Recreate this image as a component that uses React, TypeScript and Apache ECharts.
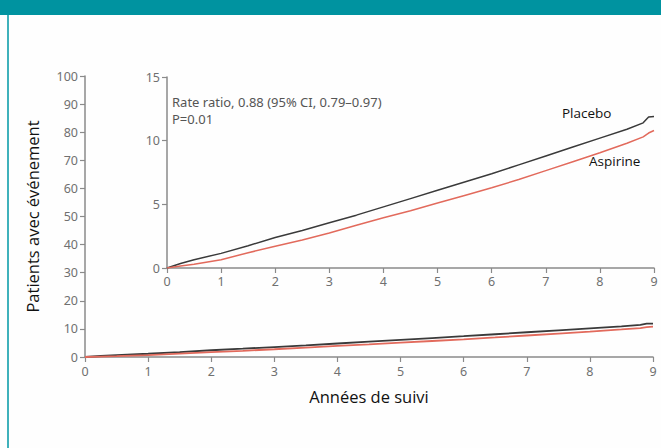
import React, { useEffect, useRef } from "react";
import * as echarts from "echarts";

const years: number[] = [0, 0.25, 0.5, 1, 1.5, 2, 2.5, 3, 3.5, 4, 4.5, 5, 5.5, 6, 6.5, 7, 7.5, 8, 8.5, 8.8, 8.9, 9];
const placebo: number[] = [0, 0.35, 0.65, 1.15, 1.75, 2.4, 2.95, 3.55, 4.15, 4.8, 5.45, 6.1, 6.75, 7.4, 8.1, 8.8, 9.5, 10.2, 10.9, 11.4, 11.85, 11.9];
const aspirine: number[] = [0, 0.15, 0.3, 0.65, 1.2, 1.7, 2.2, 2.75, 3.35, 3.95, 4.5, 5.1, 5.7, 6.3, 6.95, 7.65, 8.35, 9.05, 9.8, 10.3, 10.6, 10.8];

const mainYTicks = { min: 0, max: 100, interval: 10 };
const insetYTicks = { min: 0, max: 15, interval: 5 };
const xTicks = { min: 0, max: 9, interval: 1 };

const seriesNames = ["Placebo", "Aspirine"];
const xTitle = "Années de suivi";
const yTitle = "Patients avec événement";
const annotation1 = "Rate ratio, 0.88 (95% CI, 0.79–0.97)";
const annotation2 = "P=0.01";

const PLACEBO_COLOR = "#3a3a3a";
const ASPIRINE_COLOR = "#e26a5c";
const AXIS_COLOR = "#8a8a8a";
const LABEL_COLOR = "#707070";
const TICK_FONT = "Noto Sans";

export default function App() {
  const ref = useRef<HTMLDivElement>(null);

  useEffect(() => {
    if (!ref.current) return;
    const chart = echarts.init(ref.current, undefined, { renderer: "svg" });
    const pair = (ys: number[]) => years.map((x, i) => [x, ys[i]]);

    const axisCommon = {
      axisLine: { show: true, lineStyle: { color: AXIS_COLOR, width: 1.5 } },
      axisTick: { show: true, length: 5, lineStyle: { color: AXIS_COLOR, width: 1.2 } },
      axisLabel: { color: LABEL_COLOR, fontSize: 12.5, fontFamily: TICK_FONT, margin: 7 },
      splitLine: { show: false },
    };

    chart.setOption({
      animation: false,
      backgroundColor: "#fefefe",
      grid: [
        { left: 85, right: 8, top: 76, bottom: 91 },
        { left: 167, right: 7, top: 77, bottom: 180 },
      ],
      xAxis: [
        {
          type: "value",
          gridIndex: 0,
          ...xTicks,
          ...axisCommon,
          axisLabel: { ...axisCommon.axisLabel, margin: 8 },
          name: xTitle,
          nameLocation: "middle",
          nameGap: 31,
          nameTextStyle: { color: "#111", fontSize: 16.5, fontFamily: "Open Sans" },
        },
        {
          type: "value",
          gridIndex: 1,
          ...xTicks,
          ...axisCommon,
          axisLabel: { ...axisCommon.axisLabel, margin: 7 },
        },
      ],
      yAxis: [
        {
          type: "value",
          gridIndex: 0,
          ...mainYTicks,
          ...axisCommon,
          name: yTitle,
          nameLocation: "middle",
          nameGap: 44,
          nameTextStyle: { color: "#111", fontSize: 16.5, fontFamily: "Open Sans" },
        },
        {
          type: "value",
          gridIndex: 1,
          ...insetYTicks,
          ...axisCommon,
        },
      ],
      series: [
        {
          name: seriesNames[1] + "-main",
          type: "line",
          xAxisIndex: 0,
          yAxisIndex: 0,
          data: pair(aspirine),
          showSymbol: false,
          lineStyle: { color: ASPIRINE_COLOR, width: 1.8 },
          z: 3,
        },
        {
          name: seriesNames[0] + "-main",
          type: "line",
          xAxisIndex: 0,
          yAxisIndex: 0,
          data: pair(placebo),
          showSymbol: false,
          lineStyle: { color: PLACEBO_COLOR, width: 1.8 },
          z: 2,
        },
        {
          name: seriesNames[0],
          type: "line",
          xAxisIndex: 1,
          yAxisIndex: 1,
          data: pair(placebo),
          showSymbol: false,
          lineStyle: { color: PLACEBO_COLOR, width: 1.5 },
        },
        {
          name: seriesNames[1],
          type: "line",
          xAxisIndex: 1,
          yAxisIndex: 1,
          data: pair(aspirine),
          showSymbol: false,
          lineStyle: { color: ASPIRINE_COLOR, width: 1.5 },
        },
      ],
      graphic: [
        { type: "rect", left: 0, top: 0, shape: { width: 661, height: 15 }, style: { fill: "#0093a0" } },
        { type: "rect", left: 7, top: 15, shape: { width: 2, height: 433 }, style: { fill: "#3fb1bb" } },
        {
          type: "text",
          left: 172,
          top: 95,
          style: { text: annotation1, fill: "#555", fontSize: 13, fontFamily: TICK_FONT },
        },
        {
          type: "text",
          left: 172,
          top: 112,
          style: { text: annotation2, fill: "#555", fontSize: 13, fontFamily: TICK_FONT },
        },
        {
          type: "text",
          left: 562,
          top: 106,
          style: { text: seriesNames[0], fill: "#111", fontSize: 13.5, fontFamily: "Open Sans" },
        },
        {
          type: "text",
          left: 589,
          top: 154,
          style: { text: seriesNames[1], fill: "#111", fontSize: 13.5, fontFamily: "Open Sans" },
        },
      ],
    });
    return () => chart.dispose();
  }, []);

  return (
    <div
      ref={ref}
      style={{ position: "fixed", left: 0, top: 0, width: 661, height: 448 }}
    />
  );
}
